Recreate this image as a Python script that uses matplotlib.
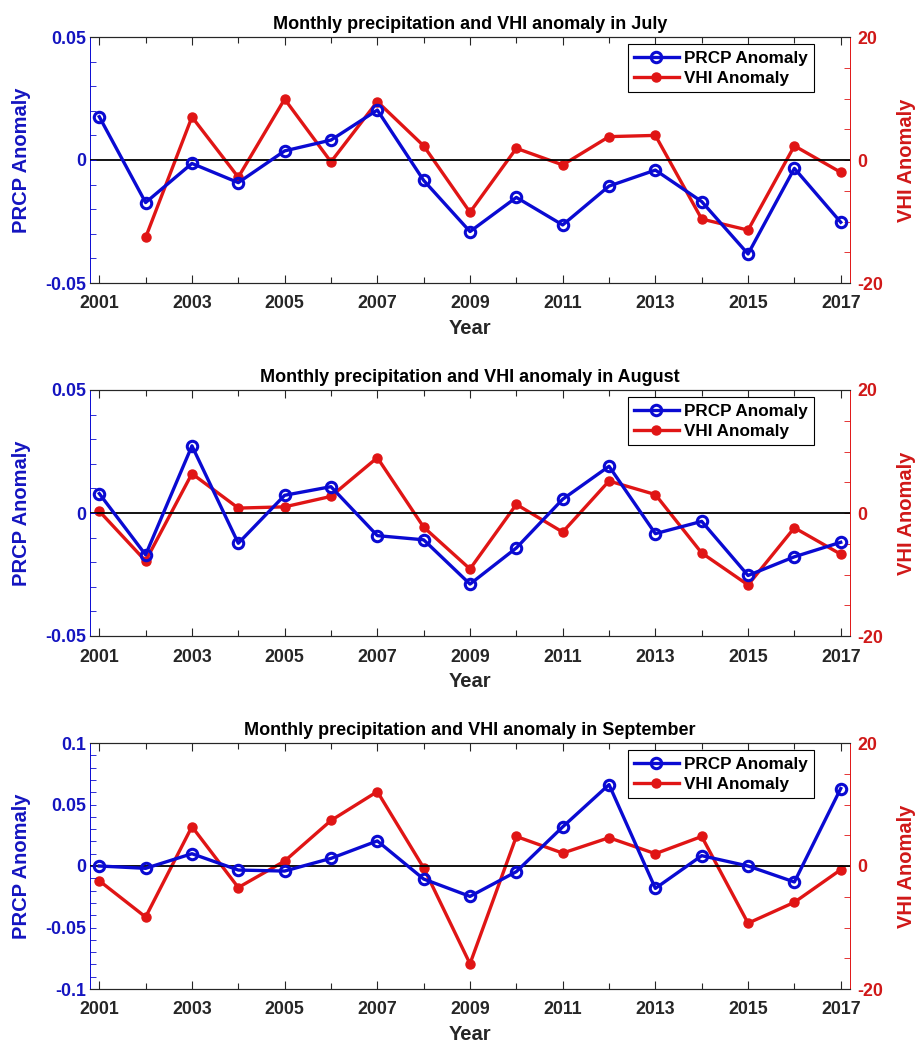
import matplotlib
matplotlib.use("Agg")
import matplotlib.pyplot as plt
import numpy as np
from matplotlib.ticker import MultipleLocator

plt.rcParams["font.family"] = ["Liberation Sans", "DejaVu Sans"]
plt.rcParams["font.weight"] = "bold"
plt.rcParams["axes.unicode_minus"] = False

years = np.arange(2001, 2018)

# July
prcp_jul = [0.0176, -0.0173, -0.0014, -0.0092, 0.0037, 0.0081, 0.0203, -0.0083, -0.0291,
            -0.0152, -0.0264, -0.0106, -0.0041, -0.0169, -0.0382, -0.0034, -0.0253]
vhi_jul = [np.nan, -12.6, 7.0, -2.8, 9.9, -0.3, 9.5, 2.3, -8.5,
           1.9, -0.8, 3.8, 4.0, -9.6, -11.4, 2.3, -2.0]

# August
prcp_aug = [0.0079, -0.0170, 0.0273, -0.0123, 0.0072, 0.0107, -0.0092, -0.0109, -0.0289,
            -0.0142, 0.0056, 0.0190, -0.0084, -0.0034, -0.0254, -0.0178, -0.0119]
vhi_aug = [0.3, -7.8, 6.4, 0.8, 1.0, 2.7, 9.0, -2.3, -9.1,
           1.4, -3.1, 5.2, 3.0, -6.5, -11.7, -2.4, -6.7]

# September
prcp_sep = [0.0, -0.0019, 0.0100, -0.0033, -0.0041, 0.0062, 0.0204, -0.0106, -0.0247,
            -0.0046, 0.0318, 0.0662, -0.0182, 0.0084, 0.0, -0.0130, 0.0630]
vhi_sep = [-2.4, -8.3, 6.4, -3.5, 0.8, 7.4, 12.1, -0.3, -15.9,
           4.8, 2.1, 4.6, 2.0, 4.8, -9.3, -5.9, -0.6]

months = ["July", "August", "September"]
prcp_all = [prcp_jul, prcp_aug, prcp_sep]
vhi_all = [vhi_jul, vhi_aug, vhi_sep]
prcp_ticks = [
    [-0.05, 0, 0.05],
    [-0.05, 0, 0.05],
    [-0.1, -0.05, 0, 0.05, 0.1],
]

blue = "#0a0ad2"
red = "#e01515"
blue_txt = "#1414c0"
red_txt = "#d01818"
dark = "#262626"

W, H = 916, 1044
fig = plt.figure(figsize=(W / 100, H / 100), dpi=100)

left_px, right_px = 90, 850
tops_px = [37, 390, 743]
h_px = 246

for i, month in enumerate(months):
    ax = fig.add_axes([left_px / W, 1 - (tops_px[i] + h_px) / H,
                       (right_px - left_px) / W, h_px / H])
    ax2 = ax.twinx()

    ax.axhline(0, color="black", lw=1.3, zorder=1)
    l1, = ax.plot(years, prcp_all[i], color=blue, lw=2.4, marker="o", ms=7.5,
                  mfc="none", mec=blue, mew=2.2, label="PRCP Anomaly", zorder=3)
    l2, = ax2.plot(years, vhi_all[i], color=red, lw=2.4, marker="o", ms=6.5,
                   mfc=red, mec=red, label="VHI Anomaly", zorder=2)
    # keep the blue series above the red one
    ax.set_zorder(ax2.get_zorder() + 1)
    ax.patch.set_visible(False)

    ticks = prcp_ticks[i]
    ax.set_xlim(2000.8, 2017.2)
    ax.set_ylim(ticks[0], ticks[-1])
    ax.set_yticks(ticks)
    ax.set_yticklabels([f"{t:g}" for t in ticks])
    ax.yaxis.set_minor_locator(MultipleLocator(0.01))
    ax2.set_ylim(-20, 20)
    ax2.set_yticks([-20, 0, 20])
    ax2.yaxis.set_minor_locator(MultipleLocator(5))

    ax.set_xticks(np.arange(2001, 2018, 2))
    ax.xaxis.set_minor_locator(MultipleLocator(1))

    ax.tick_params(axis="x", which="both", direction="in", top=True, colors=dark,
                   labelsize=12.8, pad=9)
    ax.tick_params(axis="x", which="major", length=6, width=0.8)
    ax.tick_params(axis="x", which="minor", length=4, width=0.8)
    ax.tick_params(axis="y", which="both", direction="in", color=blue,
                   labelcolor=blue_txt, labelsize=12.8, length=4, width=0.6, pad=3)
    ax2.tick_params(axis="y", which="both", direction="in", color=red,
                    labelcolor=red_txt, labelsize=12.8, length=4, width=0.6, pad=5)

    for a in (ax, ax2):
        a.spines["top"].set_color(dark)
        a.spines["bottom"].set_color(dark)
        a.spines["top"].set_linewidth(0.8)
        a.spines["bottom"].set_linewidth(0.8)
    ax2.spines["left"].set_color(blue)
    ax2.spines["left"].set_linewidth(0.7)
    ax2.spines["right"].set_color(red)
    ax2.spines["right"].set_linewidth(0.7)
    ax.spines["left"].set_visible(False)
    ax.spines["right"].set_visible(False)

    ax.set_title(f"Monthly precipitation and VHI anomaly in {month}",
                 fontsize=13, fontweight="bold", color="black", pad=6)
    ax.set_xlabel("Year", fontsize=14.5, fontweight="bold", color=dark, labelpad=5)
    ax.set_ylabel("PRCP Anomaly", fontsize=14.5, fontweight="bold", color=blue_txt)
    ax.yaxis.set_label_coords(-0.078, 0.5)
    ax2.set_ylabel("VHI Anomaly", fontsize=14.5, fontweight="bold", color=red_txt)
    ax2.yaxis.set_label_coords(1.062, 0.5)

    leg = ax.legend(handles=[l1, l2], loc="upper right",
                    bbox_to_anchor=(0.9526, 0.9715), borderaxespad=0,
                    fontsize=12.3, fancybox=False, framealpha=1, edgecolor="black",
                    handlelength=2.6, handletextpad=0.3, borderpad=0.38,
                    labelspacing=0.3)
    leg.get_frame().set_linewidth(0.8)

fig.savefig("out.png", dpi=100)
